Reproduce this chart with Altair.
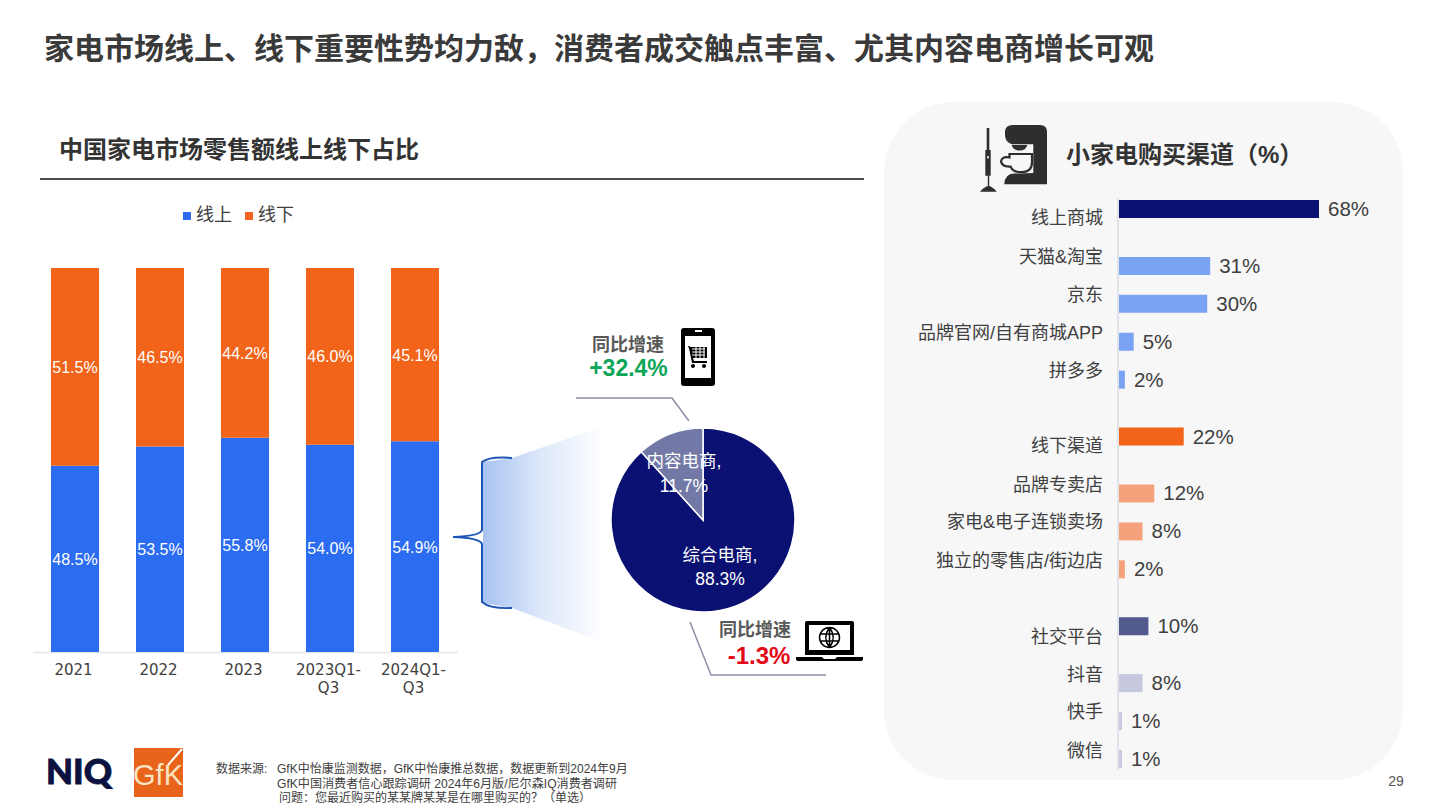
import altair as alt
import pandas as pd

FONT = "Liberation Sans, Noto Sans CJK SC"
CJK = "Noto Sans CJK SC"
OFF = 8
CANVAS_H = 800

# ---- left stacked bars
periods = ["2021", "2022", "2023", "2023Q1-Q3", "2024Q1-Q3"]
online = [48.5, 53.5, 55.8, 54.0, 54.9]
offline = [51.5, 46.5, 44.2, 46.0, 45.1]
channels = ["线上", "线下"]
channel_colors = ["#2B6CF0", "#F2641A"]

# ---- pie
pie_names = ["综合电商", "内容电商"]
pie_values = [88.3, 11.7]
pie_colors = ["#0A1172", "#7379A6"]

# ---- right bars
buy_names = ["线上商城", "天猫&淘宝", "京东", "品牌官网/自有商城APP", "拼多多", "线下渠道", "品牌专卖店",
             "家电&电子连锁卖场", "独立的零售店/街边店", "社交平台", "抖音", "快手", "微信"]
buy_values = [68, 31, 30, 5, 2, 22, 12, 8, 2, 10, 8, 1, 1]
buy_tiers = ["a", "b", "b", "b", "b", "c", "d", "d", "d", "e", "f", "f", "f"]
buy_slots = [0, 3, 5, 7, 9, 12, 15, 17, 19, 22, 25, 27, 29]
name_slots = [0.42, 2.5, 4.5, 6.5, 8.5, 12.45, 14.5, 16.45, 18.5, 22.5, 24.5, 26.45, 28.5]
tier_names = ["a", "b", "c", "d", "e", "f"]
tier_colors = ["#0A1172", "#7BA3F4", "#F2641A", "#F5A27C", "#535A8E", "#C5C8DE"]

ONE = pd.DataFrame({"a": [1]})


def txt(text, x, y, size, color="#404040", weight="normal", align="left", font=FONT):
    return alt.Chart(ONE).mark_text(
        text=text, fontSize=size, color=color, fontWeight=weight, align=align,
        baseline="middle", font=font, lineHeight=size * 1.4,
    ).encode(x=alt.value(x - OFF), y=alt.value(y - OFF))


def shape(path, fill=None, stroke=None, sw=0):
    kw = {"filled": fill is not None, "opacity": 1, "strokeWidth": sw}
    if fill is not None:
        kw["fill"] = fill
        kw["fillOpacity"] = 1
    if stroke is not None:
        kw["stroke"] = stroke
    return alt.Chart(ONE).mark_point(shape=path, size=4, **kw).encode(
        x=alt.value(-OFF), y=alt.value(-OFF))


def rule(x, y, x2, y2, color, w):
    return alt.Chart(ONE).mark_rule(color=color, strokeWidth=w).encode(
        x=alt.value(x - OFF), y=alt.value(y - OFF), x2=alt.value(x2 - OFF), y2=alt.value(y2 - OFF))


# ---------- stacked chart
rows = []
for p, a, b in zip(periods, online, offline):
    rows.append({"period": p, "channel": channels[0], "value": a, "ord": 0, "mid": a / 2, "label": f"{a:.1f}%"})
    rows.append({"period": p, "channel": channels[1], "value": b, "ord": 1, "mid": a + b / 2, "label": f"{b:.1f}%"})
stack_df = pd.DataFrame(rows)

sx = alt.Scale(domain=periods, range=[32.5 - OFF, 457.5 - OFF], paddingInner=0.435, paddingOuter=0.2175)
sy = alt.Scale(domain=[0, 100], range=[652 - OFF, 268 - OFF], nice=False)

x_axis = alt.Axis(
    title=None, orient="bottom", offset=-(CANVAS_H - 644), ticks=False, grid=False, domainColor="#E3E6EA", domainWidth=1.5,
    labelFontSize=15, labelFont="DejaVu Sans", labelColor="#404040", labelAngle=0, labelPadding=10.5,
    labelLineHeight=18, labelOffset=-1.5,
    labelExpr="length(datum.label)>4 ? [slice(datum.label,0,7), slice(datum.label,7)] : datum.label",
)
stack_bars = alt.Chart(stack_df).mark_bar().encode(
    x=alt.X("period:N", scale=sx, axis=x_axis, sort=periods),
    y=alt.Y("value:Q", scale=sy, axis=None, stack="zero"),
    order=alt.Order("ord:Q"),
    color=alt.Color("channel:N", scale=alt.Scale(domain=channels, range=channel_colors), legend=alt.Legend(
        orient="none", legendX=170, legendY=199, direction="horizontal", title=None, symbolType="square",
        symbolSize=64, symbolStrokeWidth=0, labelFontSize=18, labelFont=CJK, labelColor="#404040",
        columnPadding=8, labelOffset=0)),
)
stack_labels = alt.Chart(stack_df).mark_text(fontSize=16, font=FONT, color="white", baseline="middle", dy=1).encode(
    x=alt.X("period:N", scale=sx, axis=x_axis, sort=periods),
    y=alt.Y("mid:Q", scale=sy, axis=None),
    text="label:N",
)
stack_chart = alt.layer(stack_bars, stack_labels)

# ---------- pie
pie_df = pd.DataFrame({"name": pie_names, "value": pie_values, "ord": [0, 1]})
pie = alt.Chart(pie_df).mark_arc(radius=92, stroke="white", strokeWidth=1.5).encode(
    x=alt.value(703 - OFF), y=alt.value(520 - OFF),
    theta=alt.Theta("value:Q", stack=True),
    order=alt.Order("ord:Q"),
    color=alt.Color("name:N", scale=alt.Scale(domain=pie_names, range=pie_colors), legend=None),
)

# ---------- right bars
buy_df = pd.DataFrame({"name": buy_names, "value": buy_values, "tier": buy_tiers, "slot": buy_slots,
                       "nslot": name_slots, "label": [f"{v}%" for v in buy_values]})
rx = alt.Scale(domain=[0, 68], range=[1119 - OFF, 1319 - OFF], nice=False)
ry = alt.Scale(domain=[0, 29], range=[209 - OFF, 759 - OFF], nice=False, zero=False, padding=0)
buy_bars = alt.Chart(buy_df).mark_bar(size=18, orient="horizontal").encode(
    x=alt.X("value:Q", scale=rx, axis=None),
    y=alt.Y("slot:Q", scale=ry, axis=None),
    color=alt.Color("tier:N", scale=alt.Scale(domain=tier_names, range=tier_colors), legend=None),
)
buy_values_text = alt.Chart(buy_df).mark_text(fontSize=20.5, font=FONT, color="#404040", align="left",
                                              baseline="middle", dx=9, dy=1).encode(
    x=alt.X("value:Q", scale=rx, axis=None),
    y=alt.Y("slot:Q", scale=ry, axis=None),
    text="label:N",
)
buy_names_text = alt.Chart(buy_df).mark_text(fontSize=18, font=FONT, color="#404040", align="right",
                                             baseline="middle", dy=2).encode(
    x=alt.value(1103 - OFF),
    y=alt.Y("nslot:Q", scale=ry, axis=None),
    text="name:N",
)
buy_chart = alt.layer(buy_bars, buy_values_text, buy_names_text)

# ---------- decoration
panel = alt.Chart(ONE).mark_rect(fill="#F7F7F8", cornerRadius=70).encode(
    x=alt.value(884 - OFF), x2=alt.value(1403 - OFF), y=alt.value(102 - OFF), y2=alt.value(780 - OFF))

fade = alt.LinearGradient(gradient="linear", x1=0, x2=1, y1=0, y2=0, stops=[
    alt.GradientStop(offset=0, color="#A8C3F2"), alt.GradientStop(offset=0.45, color="#DCE7FA"),
    alt.GradientStop(offset=0.95, color="#FFFFFF")])
wedge = shape("M483 462 L512 458 L610 424 L610 645 L512 608 L483 603 Z", fill=fade)
bracket = shape("M512 458 Q490 456 482 462 V530 Q480 536 453 537 Q480 538 482 544 V602 Q490 609 512 608",
                stroke="#1F55B5", sw=2)
conn1 = shape("M576 398 H672 L689 421", stroke="#8C90A8", sw=1.5)
conn2 = shape("M690 622 L711 675 H826", stroke="#8C90A8", sw=1.5)

# phone icon
phone = [
    shape("M684 328 H712 Q715 328 715 331 V383 Q715 386 712 386 H684 Q681 386 681 383 V331 Q681 328 684 328 Z", fill="#000000"),
    shape("M685 336 H711 V378 H685 Z M695 330 H702 V332 H695 Z", fill="#FFFFFF"),
    shape("M688 346 L691 347 H707 V358 H693 L694 361 H707 V363 H692 L689 348 L688 347 Z", fill="#000000"),
    shape("M692 349 H705 M692 352 H705 M692 355 H705 M696 347 V358 M700 347 V358 M704 347 V358", stroke="#FFFFFF", sw=1),
    shape("M691 366 A2 2 0 1 0 695 366 A2 2 0 1 0 691 366 Z M702 366 A2 2 0 1 0 706 366 A2 2 0 1 0 702 366 Z", fill="#000000"),
]
# laptop icon
laptop = [
    shape("M807 621 H852 Q854 621 854 623 V655 H805 V623 Q805 621 807 621 Z", fill="#000000"),
    shape("M809 625 H850 V650 H809 Z", fill="#FFFFFF"),
    shape("M796 657 H822 L824 659 H835 L837 657 H863 V659 Q863 661 860 661 H799 Q796 661 796 659 Z", fill="#000000"),
    shape("M819.5 637.5 A10 10 0 1 0 839.5 637.5 A10 10 0 1 0 819.5 637.5 Z M829.5 627.5 V647.5 M820 634 H839 M820 641 H839 "
          "M829.5 627.5 Q822 637.5 829.5 647.5 M829.5 627.5 Q837 637.5 829.5 647.5", stroke="#000000", sw=1.5),
]
# appliance icon
appliance = [
    shape("M1013 125 H1040 Q1047 125 1047 132 V184.3 H1004.3 Q1004.5 174 1014 173.5 L1033.3 173 V144.3 H1012 Q1005 142 1005 135 V132 Q1005 125 1013 125 Z", fill="#2E2E2E"),
    shape("M1011.7 145 H1027.3 Q1026 150.5 1019.5 150.5 Q1013 150.5 1011.7 145 Z", fill="#2E2E2E"),
    shape("M1009.5 154 H1032 V162 Q1032 172 1022 172 H1019 Q1013 172 1010.5 166.5 Q1002 167 1001 161.5 Q1002 156 1009.5 157.5 Z", fill="#F7F7F8", stroke="#2E2E2E", sw=2.2),
    shape("M986.7 128 H989.3 V150 H990.7 V175.7 H989.2 V186 Q993 187 996.7 191.7 H980 Q984 187 987.8 186 V175.7 H985.3 V150 H986.7 Z", fill="#2E2E2E"),
    shape("M987.2 156 H988.8 V158.5 H987.2 Z", fill="#F7F7F8"),
]

# ---------- text
texts = [
    txt("家电市场线上、线下重要性势均力敌，消费者成交触点丰富、尤其内容电商增长可观", 44, 50, 30, "#3A3A3A", "bold", font=CJK),
    txt("中国家电市场零售额线上线下占比", 59, 151, 24, "#333333", "bold", font=CJK),
    txt("小家电购买渠道（%）", 1066, 156, 24, "#333333", "bold"),
    txt("同比增速", 628, 346, 18, "#595959", "bold", "center", CJK),
    txt("+32.4%", 628.5, 369, 23, "#0BA658", "bold", "center"),
    txt("同比增速", 755, 631, 18, "#595959", "bold", "center", CJK),
    txt("-1.3%", 759, 657, 24, "#E30B17", "bold", "center"),
    txt("内容电商,", 684, 462, 17.5, "#FFFFFF", align="center"),
    txt("11.7%", 684, 487, 17.5, "#FFFFFF", align="center"),
    txt("综合电商,", 720, 556, 17.5, "#FFFFFF", align="center"),
    txt("88.3%", 720, 580, 17.5, "#FFFFFF", align="center"),
    txt("数据来源:", 216, 769, 12, "#404040"),
    txt("GfK中怡康监测数据，GfK中怡康推总数据，数据更新到2024年9月", 277, 769, 12, "#404040"),
    txt("GfK中国消费者信心跟踪调研 2024年6月版/尼尔森IQ消费者调研", 277, 784, 12.1, "#404040"),
    txt("问题：您最近购买的某某牌某某是在哪里购买的？（单选）", 279, 798, 12, "#404040"),
    txt("29", 1396, 782, 14, "#555555", align="center"),
    alt.Chart(ONE).mark_text(text="NIQ", fontSize=35, color="#0C1240", fontWeight=900, align="left",
                             baseline="middle", font="Lato", stroke="#0C1240", strokeWidth=0.9).encode(
        x=alt.value(46 - OFF), y=alt.value(773 - OFF)),
]

gfk = [
    alt.Chart(ONE).mark_rect(fill="#E8641B").encode(
        x=alt.value(134 - OFF), x2=alt.value(183 - OFF), y=alt.value(748 - OFF), y2=alt.value(797 - OFF)),
    txt("GfK", 158, 776, 29, "#FBE3C2", align="center", font="Liberation Sans Narrow, Liberation Sans"),
    rule(168, 765, 182, 749, "#FFFFFF", 2),
]

lines = [
    rule(40, 179, 864, 179, "#111111", 1.5),
    rule(1118, 198, 1118, 770, "#D9DCE3", 1.5),
]

chart = alt.layer(
    panel, wedge, bracket, conn1, conn2, *lines,
    stack_chart, pie, buy_chart,
    *phone, *laptop, *appliance, *gfk, *texts,
).resolve_scale(x="independent", y="independent", color="independent", theta="independent").properties(
    width=1424, height=CANVAS_H, padding=0, autosize=alt.AutoSizeParams(type="none"), background="white",
).configure_view(stroke=None)

chart.save("out.html", embed_options={"renderer": "svg", "actions": False})
